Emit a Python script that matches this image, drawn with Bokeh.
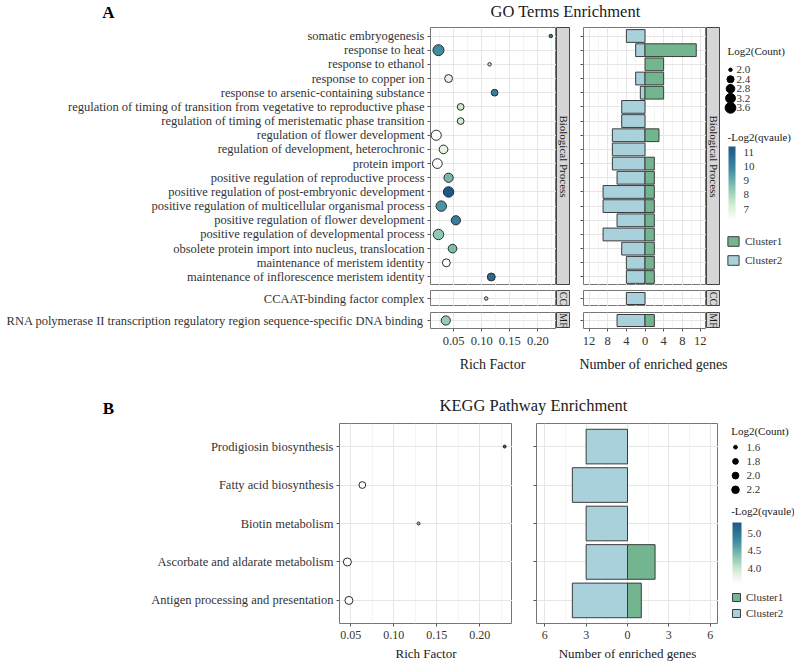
import math
from bokeh.plotting import figure
from bokeh.models import (Range1d, FixedTicker, ColumnDataSource, LinearColorMapper, ColorBar,
                          Label, Legend, LegendItem, Spacer, LinearAxis, Grid, PrintfTickFormatter)
from bokeh.layouts import row, column
from bokeh.core.properties import value
from bokeh.embed import file_html
from bokeh.resources import INLINE

# ---------------- data ----------------
go_title = "GO Terms Enrichment"
kegg_title = "KEGG Pathway Enrichment"

bp_terms = [
    "somatic embryogenesis",
    "response to heat",
    "response to ethanol",
    "response to copper ion",
    "response to arsenic-containing substance",
    "regulation of timing of transition from vegetative to reproductive phase",
    "regulation of timing of meristematic phase transition",
    "regulation of flower development",
    "regulation of development, heterochronic",
    "protein import",
    "positive regulation of reproductive process",
    "positive regulation of post-embryonic development",
    "positive regulation of multicellular organismal process",
    "positive regulation of flower development",
    "positive regulation of developmental process",
    "obsolete protein import into nucleus, translocation",
    "maintenance of meristem identity",
    "maintenance of inflorescence meristem identity",
]
bp_rich = [0.223, 0.023, 0.114, 0.041, 0.123, 0.0625, 0.0625, 0.019, 0.032, 0.021,
           0.041, 0.041, 0.028, 0.054, 0.023, 0.048, 0.037, 0.117]
bp_qlog = [10.3, 9.8, 7.6, 6.9, 10.2, 7.4, 7.4, 6.2, 6.9, 6.2,
           8.8, 11.4, 9.6, 10.2, 8.4, 8.7, 6.3, 10.8]
bp_cluster1 = [0, 11, 4, 4, 4, 0, 0, 3, 0, 2, 2, 2, 2, 2, 2, 2, 2, 2]
bp_cluster2 = [4, 2, 0, 2, 1, 5, 5, 7, 7, 7, 6, 9, 9, 6, 9, 5, 4, 4]

cc_terms = ["CCAAT-binding factor complex"]
cc_rich = [0.108]
cc_qlog = [8.0]
cc_cluster1 = [0]
cc_cluster2 = [4]

mf_terms = ["RNA polymerase II transcription regulatory region sequence-specific DNA binding"]
mf_rich = [0.036]
mf_qlog = [8.3]
mf_cluster1 = [2]
mf_cluster2 = [6]

kegg_terms = [
    "Prodigiosin biosynthesis",
    "Fatty acid biosynthesis",
    "Biotin metabolism",
    "Ascorbate and aldarate metabolism",
    "Antigen processing and presentation",
]
kegg_rich = [0.229, 0.0636, 0.129, 0.0462, 0.048]
kegg_qlog = [5.3, 3.58, 4.4, 3.58, 3.6]
kegg_cluster1 = [0, 0, 0, 2, 1]
kegg_cluster2 = [3, 4, 3, 3, 4]

rich_ticks = [0.05, 0.10, 0.15, 0.20]
go_size_breaks = [2.0, 2.4, 2.8, 3.2, 3.6]
go_color_ticks = [7, 8, 9, 10, 11]
kegg_size_breaks = [1.6, 1.8, 2.0, 2.2]
kegg_color_ticks = [4.0, 4.5, 5.0]
cluster_labels = ["Cluster1", "Cluster2"]
rich_label = "Rich Factor"
genes_label = "Number of enriched genes"

# ---------------- style ----------------
FONT = "Liberation Serif"
TXT = "#333333"
TITLE_C = "#1a1a1a"
PANEL_BORDER = "#767676"
GRID_MAJ = "#e6e6e6"
GRID_MIN = "#f0f0f0"
TICK_C = "#555555"
C1 = "#72b58f"
C2 = "#a8d1dc"
BAR_LINE = "#3c3c3c"
DOT_LINE = "#2b2b2b"
STRIP_FILL = "#d6d6d6"
STRIP_LINE = "#444444"


def hex2rgb(h):
    return tuple(int(h[i:i + 2], 16) for i in (1, 3, 5))


def make_palette(stops, n=256):
    out = []
    for k in range(n):
        t = k / (n - 1)
        for (t0, c0), (t1, c1) in zip(stops[:-1], stops[1:]):
            if t0 <= t <= t1:
                f = (t - t0) / (t1 - t0)
                a, b = hex2rgb(c0), hex2rgb(c1)
                out.append("#%02x%02x%02x" % tuple(round(a[j] + (b[j] - a[j]) * f) for j in range(3)))
                break
    return out


PALETTE = make_palette([(0.0, "#ffffff"), (0.2, "#d9eed4"), (0.45, "#86c4b0"),
                        (0.7, "#3d8aa2"), (1.0, "#1d5887")])


def size_scale(vals, dmin, dmax):
    lo, hi = min(vals), max(vals)
    return lambda v: dmin + (dmax - dmin) * math.sqrt(max(0.0, v - lo) / (hi - lo))


def expand(vals, frac=0.05):
    lo, hi = min(vals), max(vals)
    pad = (hi - lo) * frac
    return Range1d(lo - pad, hi + pad)


def make_fig(w, h, xr, yr, left=0, bottom=0):
    p = figure(width=w, height=h, x_range=xr, y_range=yr, x_axis_type=None, y_axis_type=None,
               output_backend="svg", toolbar_location=None, min_border=0,
               min_border_left=left, min_border_bottom=bottom, min_border_right=0, min_border_top=0)
    p.outline_line_color = PANEL_BORDER
    p.outline_line_width = 1
    return p


def text_fig(w, h, bottom=0):
    p = figure(width=w, height=h, x_range=Range1d(0, w), y_range=Range1d(h - bottom, 0),
               x_axis_type=None, y_axis_type=None, output_backend="svg",
               toolbar_location=None, min_border=0, min_border_bottom=bottom)
    p.outline_line_color = None
    return p


def add_grids(p, xt, xminor, yt):
    gx = Grid(dimension=0, ticker=FixedTicker(ticks=xt, minor_ticks=xminor))
    gy = Grid(dimension=1, ticker=FixedTicker(ticks=yt))
    for g in (gx, gy):
        g.grid_line_color = GRID_MAJ
        g.grid_line_width = 1
        g.minor_grid_line_color = GRID_MIN
        g.minor_grid_line_width = 0.7
        p.add_layout(g, "center")


def add_yaxis(p, ys, labels, fs):
    ax = LinearAxis(ticker=FixedTicker(ticks=ys),
                    major_label_overrides={y: l for y, l in zip(ys, labels)})
    ax.axis_line_color = None
    ax.major_tick_in = 0
    ax.major_tick_out = 3
    ax.major_tick_line_color = TICK_C
    ax.minor_tick_line_color = None
    ax.major_label_standoff = 3
    ax.major_label_text_font = FONT
    ax.major_label_text_font_size = fs
    ax.major_label_text_color = TXT
    p.add_layout(ax, "left")


def add_xaxis(p, ticks, label, fs, lfs, standoff, lstandoff, overrides=None, fmt=None):
    ax = LinearAxis(ticker=FixedTicker(ticks=ticks), axis_label=label)
    if overrides:
        ax.major_label_overrides = overrides
    if fmt:
        ax.formatter = fmt
    ax.axis_line_color = None
    ax.major_tick_in = 0
    ax.major_tick_out = 3
    ax.major_tick_line_color = TICK_C
    ax.minor_tick_line_color = None
    ax.major_label_standoff = standoff
    ax.major_label_text_font = FONT
    ax.major_label_text_font_size = fs
    ax.major_label_text_color = TXT
    ax.axis_label_text_font = FONT
    ax.axis_label_text_font_style = "normal"
    ax.axis_label_text_font_size = lfs
    ax.axis_label_text_color = TITLE_C
    ax.axis_label_standoff = lstandoff
    p.add_layout(ax, "below")


def dot_panel(terms, rich, qlog, c1, c2, xr, mapper, sizef, w, h, left, bottom, fs, minor):
    n = len(terms)
    ys = [n - i for i in range(n)]
    p = make_fig(w, h, xr, Range1d(0.4, n + 0.6), left, bottom)
    add_grids(p, rich_ticks, minor, ys)
    src = ColumnDataSource(dict(x=rich, y=ys, q=qlog,
                                s=[sizef(math.log2(a + b)) for a, b in zip(c1, c2)]))
    p.scatter(x="x", y="y", size="s", source=src, marker="circle",
              fill_color={"field": "q", "transform": mapper}, line_color=DOT_LINE, line_width=1)
    add_yaxis(p, ys, terms, fs)
    return p


def bar_panel(c1, c2, xr, ticks, minor, w, h, left, bottom, bar_h=0.9):
    n = len(c1)
    ys = [n - i for i in range(n)]
    p = make_fig(w, h, xr, Range1d(0.4, n + 0.6), left, bottom)
    add_grids(p, ticks, minor, ys)
    y2 = [y for y, v in zip(ys, c2) if v > 0]
    v2 = [-v for v in c2 if v > 0]
    y1 = [y for y, v in zip(ys, c1) if v > 0]
    v1 = [v for v in c1 if v > 0]
    p.hbar(y=y2, left=v2, right=0, height=bar_h, fill_color=C2, line_color=BAR_LINE, line_width=1)
    p.hbar(y=y1, left=0, right=v1, height=bar_h, fill_color=C1, line_color=BAR_LINE, line_width=1)
    add_yaxis(p, ys, [""] * n, "1px")
    return p


def strip(text, w, h, fs):
    p = figure(width=w, height=h, x_range=Range1d(0, 1), y_range=Range1d(0, 1),
               x_axis_type=None, y_axis_type=None, output_backend="svg",
               toolbar_location=None, min_border=0)
    p.background_fill_color = STRIP_FILL
    p.outline_line_color = STRIP_LINE
    p.add_layout(Label(x=0.5, y=0.5, text=text, angle=-math.pi / 2, text_align="center",
                       text_baseline="middle", text_font=FONT, text_font_size=fs,
                       text_color="#1a1a1a"))
    return p


def legend_panel(w, h, bottom, mapper, sizef, breaks, ctick, cfmt, g):
    p = text_fig(w, h, bottom)
    fh = h - bottom
    p.add_layout(Label(x=g["tx"], y=g["t1y"], text="Log2(Count)", text_font=FONT,
                       text_font_size="11px", text_baseline="middle", text_color=TITLE_C))
    ys = [g["dy0"] + g["dstep"] * i for i in range(len(breaks))]
    p.scatter(x=[g["dx"]] * len(breaks), y=ys, size=[sizef(b) for b in breaks],
              fill_color="black", line_color="black")
    p.text(x=[g["lx"]] * len(breaks), y=ys, text=["%.1f" % b for b in breaks],
           text_font=value(FONT), text_font_size="11px", text_baseline="middle",
           text_color=TXT)
    p.add_layout(Label(x=g["tx"], y=g["t2y"], text="-Log2(qvaule)", text_font=FONT,
                       text_font_size="11px", text_baseline="middle", text_color=TITLE_C))
    cb = ColorBar(color_mapper=mapper, ticker=FixedTicker(ticks=ctick), formatter=cfmt,
                  location=(g["cbx"], fh - g["cby"] - g["cbh"]), width=g["cbw"], height=g["cbh"],
                  padding=0, margin=0, major_tick_line_color=None, minor_tick_line_color=None,
                  bar_line_color=None, border_line_color=None, background_fill_color=None,
                  label_standoff=g["cbs"], major_label_text_font=FONT,
                  major_label_text_font_size="11px", major_label_text_color=TXT)
    p.add_layout(cb, "center")
    nan = float("nan")
    r1 = p.hbar(y=[nan], left=[0], right=[1], height=1, fill_color=C1, line_color=BAR_LINE)
    r2 = p.hbar(y=[nan], left=[0], right=[1], height=1, fill_color=C2, line_color=BAR_LINE)
    leg = Legend(items=[LegendItem(label=cluster_labels[0], renderers=[r1]),
                        LegendItem(label=cluster_labels[1], renderers=[r2])],
                 location=(g["lgx"], fh - g["lgy"]), orientation="vertical",
                 glyph_width=g["gw"], glyph_height=g["gh"], label_height=g["gh"],
                 spacing=g["gsp"], padding=0, margin=0, border_line_color=None,
                 background_fill_alpha=0, label_standoff=5, label_text_font=FONT,
                 label_text_font_size="11px", label_text_color=TXT)
    p.add_layout(leg, "center")
    return p


# ---------------- GO block ----------------
go_rich_all = bp_rich + cc_rich + mf_rich
go_q_all = bp_qlog + cc_qlog + mf_qlog
go_counts = [math.log2(a + b) for a, b in zip(bp_cluster1 + cc_cluster1 + mf_cluster1,
                                               bp_cluster2 + cc_cluster2 + mf_cluster2)]
go_mapper = LinearColorMapper(palette=PALETTE, low=min(go_q_all), high=max(go_q_all))
go_size = size_scale(go_counts, 3.5, 11.0)
go_xr = expand(go_rich_all)
rich_minor = [t - 0.025 for t in rich_ticks] + [rich_ticks[-1] + 0.025]

go_max = max(bp_cluster1 + bp_cluster2 + cc_cluster1 + cc_cluster2 + mf_cluster1 + mf_cluster2)
go_lim = 4 * math.ceil(go_max / 4)
go_gene_ticks = list(range(-go_lim, go_lim + 1, 4))
go_gene_minor = [t + 2 for t in go_gene_ticks[:-1]]
go_bxr = Range1d(-go_lim * 1.1, go_lim * 1.1)
go_over = {t: str(abs(t)) for t in go_gene_ticks}

FS = "12.5px"
dBP = dot_panel(bp_terms, bp_rich, bp_qlog, bp_cluster1, bp_cluster2, go_xr, go_mapper, go_size,
                556, 258, 430, 0, FS, rich_minor)
dCC = dot_panel(cc_terms, cc_rich, cc_qlog, cc_cluster1, cc_cluster2, go_xr, go_mapper, go_size,
                556, 16, 430, 0, FS, rich_minor)
dMF = dot_panel(mf_terms, mf_rich, mf_qlog, mf_cluster1, mf_cluster2, go_xr, go_mapper, go_size,
                556, 40, 430, 24, FS, rich_minor)
add_xaxis(dMF, rich_ticks, None, "12.5px", "14px", 5, 6, fmt=PrintfTickFormatter(format="%.2f"))

bBP = bar_panel(bp_cluster1, bp_cluster2, go_bxr, go_gene_ticks, go_gene_minor, 133, 258, 10, 0)
bCC = bar_panel(cc_cluster1, cc_cluster2, go_bxr, go_gene_ticks, go_gene_minor, 133, 16, 10, 0)
bMF = bar_panel(mf_cluster1, mf_cluster2, go_bxr, go_gene_ticks, go_gene_minor, 133, 40, 10, 24)
add_xaxis(bMF, go_gene_ticks, None, "12.5px", "14px", 5, 6, overrides=go_over)

top_header = text_fig(794, 27)
top_header.add_layout(Label(x=108, y=11.5, text="A", text_font=FONT, text_font_size="17px",
                            text_font_style="bold", text_align="center", text_baseline="middle",
                            text_color="black"))
top_header.add_layout(Label(x=565, y=10.5, text=go_title, text_font=FONT, text_font_size="16.5px",
                            text_align="center", text_baseline="middle", text_color=TITLE_C))

axis_titles = text_fig(794, 32)
axis_titles.add_layout(Label(x=492, y=12, text=rich_label, text_font=FONT, text_font_size="14px",
                             text_align="center", text_baseline="middle", text_color=TITLE_C))
axis_titles.add_layout(Label(x=653, y=12, text=genes_label, text_font=FONT, text_font_size="14px",
                             text_align="center", text_baseline="middle", text_color=TITLE_C))

go_leg = legend_panel(74, 325, 0, go_mapper, go_size, go_size_breaks, go_color_ticks, "auto",
                      dict(tx=7, t1y=23.7, dx=10, dy0=42.3, dstep=9.5, lx=16, t2y=109,
                           cbx=8, cby=119, cbw=7, cbh=74, cbs=8,
                           lgx=6, lgy=239, gw=14, gh=12, gsp=7))

left_col = column(row(dBP, strip("Biological Process", 14, 258, "11px")),
                  Spacer(width=570, height=5),
                  row(dCC, strip("CC", 14, 16, "10px")),
                  Spacer(width=570, height=6),
                  row(dMF, column(strip("MF", 14, 16, "10px"), Spacer(width=14, height=24))))
bar_col = column(row(bBP, strip("Biological Process", 14, 258, "11px")),
                 Spacer(width=147, height=5),
                 row(bCC, strip("CC", 14, 16, "10px")),
                 Spacer(width=147, height=6),
                 row(bMF, column(strip("MF", 14, 16, "10px"), Spacer(width=14, height=24))))
upper = row(left_col, Spacer(width=3, height=325), bar_col, column(go_leg))
top_block = column(upper, axis_titles)

# ---------------- KEGG block ----------------
kegg_counts = [math.log2(a + b) for a, b in zip(kegg_cluster1, kegg_cluster2)]
kegg_mapper = LinearColorMapper(palette=PALETTE, low=min(kegg_qlog), high=max(kegg_qlog))
kegg_size = size_scale(kegg_counts, 3.0, 8.0)
kegg_xr = expand(kegg_rich)
kegg_max = max(kegg_cluster1 + kegg_cluster2)
kegg_lim = 3 * math.ceil(kegg_max / 3)
kegg_gene_ticks = list(range(-kegg_lim, kegg_lim + 1, 3))
kegg_gene_minor = [t + 1.5 for t in kegg_gene_ticks[:-1]]
kegg_bxr = Range1d(-kegg_lim * 1.1, kegg_lim * 1.1)
kegg_over = {t: str(abs(t)) for t in kegg_gene_ticks}

dK = dot_panel(kegg_terms, kegg_rich, kegg_qlog, kegg_cluster1, kegg_cluster2, kegg_xr,
               kegg_mapper, kegg_size, 512, 241, 339, 41, "12.5px", rich_minor)
add_xaxis(dK, rich_ticks, rich_label, "12px", "13px", 4, 4, fmt=PrintfTickFormatter(format="%.2f"))
bK = bar_panel(kegg_cluster1, kegg_cluster2, kegg_bxr, kegg_gene_ticks, kegg_gene_minor,
               192, 241, 10, 41)
add_xaxis(bK, kegg_gene_ticks, genes_label, "12px", "13px", 4, 4, overrides=kegg_over)

bottom_header = text_fig(794, 39)
bottom_header.add_layout(Label(x=108, y=24, text="B", text_font=FONT, text_font_size="17px",
                               text_font_style="bold", text_align="center",
                               text_baseline="middle", text_color="black"))
bottom_header.add_layout(Label(x=439, y=21, text=kegg_title, text_font=FONT,
                               text_font_size="16.5px", text_align="left",
                               text_baseline="middle", text_color=TITLE_C))

kegg_leg = legend_panel(74, 241, 41, kegg_mapper, kegg_size, kegg_size_breaks, kegg_color_ticks,
                        PrintfTickFormatter(format="%.1f"),
                        dict(tx=10.7, t1y=7, dx=15, dy0=23.7, dstep=14.2, lx=26, t2y=87.7,
                             cbx=12, cby=99, cbw=9, cbh=61, cbs=6,
                             lgx=11, lgy=196, gw=10, gh=10, gsp=4))

bottom_row = row(dK, Spacer(width=14, height=241), bK, Spacer(width=2, height=241), kegg_leg)

page = column(top_header, top_block, bottom_header, bottom_row)

with open("out.html", "w") as f:
    f.write(file_html(page, INLINE))
